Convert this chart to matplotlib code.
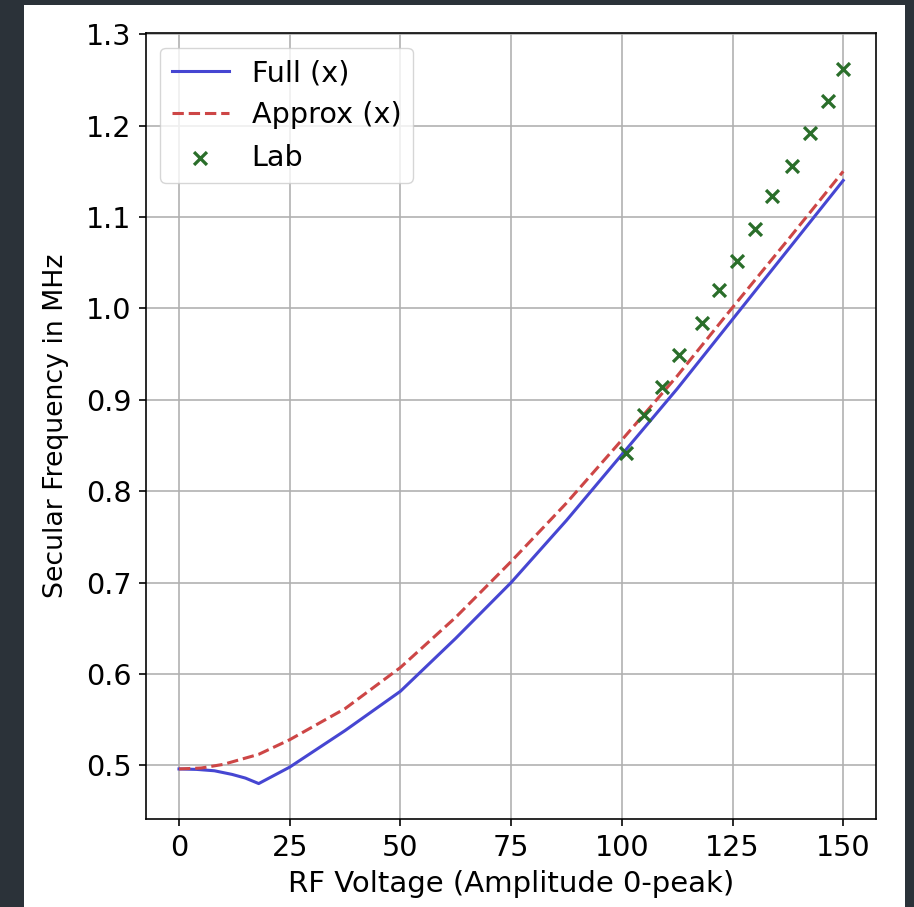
import matplotlib.pyplot as plt
from matplotlib.patches import Rectangle

# RF amplitude (V, 0-peak) vs secular frequency (MHz)
v_full = [0, 4, 8, 12, 15, 18, 25, 37.5, 50, 62.5, 75, 87.5, 100, 112.5, 125, 137.5, 150]
f_full = [0.496, 0.4955, 0.494, 0.490, 0.486, 0.480, 0.498, 0.538, 0.581, 0.639, 0.700,
          0.768, 0.840, 0.912, 0.988, 1.064, 1.140]

v_approx = [0, 5, 10, 18, 25, 37.5, 50, 62.5, 75, 87.5, 100, 112.5, 125, 137.5, 150]
f_approx = [0.496, 0.497, 0.501, 0.512, 0.528, 0.562, 0.607, 0.662, 0.723, 0.787,
            0.856, 0.926, 1.001, 1.075, 1.150]

v_lab = [101, 105, 109, 113, 118, 122, 126, 130, 134, 138.5, 142.5, 146.5, 150]
f_lab = [0.842, 0.883, 0.914, 0.949, 0.984, 1.020, 1.052, 1.087, 1.123, 1.156,
         1.192, 1.227, 1.262]

k = 1.47          # line/tick scale
fs = 14 * k       # text is bigger than the default

fig = plt.figure(figsize=(9.14, 9.07), dpi=100, facecolor='#2b3239')
# white page on the dark screen background
fig.patches.append(Rectangle((24 / 914, 0), 881 / 914, 902 / 907,
                             transform=fig.transFigure, facecolor='white',
                             edgecolor='none', zorder=-10))

ax = fig.add_axes([0.1595, 0.0967, 0.7994, 0.8666])
ax.set_zorder(5)
ax.plot(v_full, f_full, color='#4646d2', lw=1.5 * k, label='Full (x)')
ax.plot(v_approx, f_approx, color='#cd4646', lw=1.5 * k, ls='--', label='Approx (x)')
ax.scatter(v_lab, f_lab, marker='x', color='#2a6e2a', s=40 * k * k, linewidths=1.6 * k,
           label='Lab', zorder=3)

ax.set_xticks([0, 25, 50, 75, 100, 125, 150])
ax.tick_params(labelsize=fs, length=3.5 * k, width=0.8 * k, pad=3.5 * k)
ax.set_xlabel('RF Voltage (Amplitude 0-peak)', fontsize=21, labelpad=4 * k)
ax.set_ylabel('Secular Frequency in MHz', fontsize=19.3, labelpad=12)
for sp in ax.spines.values():
    sp.set_linewidth(0.8 * k)
ax.grid(True, lw=0.8 * k)
ax.legend(loc='upper left', fontsize=fs)

fig.savefig('out.png', dpi=100, facecolor=fig.get_facecolor())
